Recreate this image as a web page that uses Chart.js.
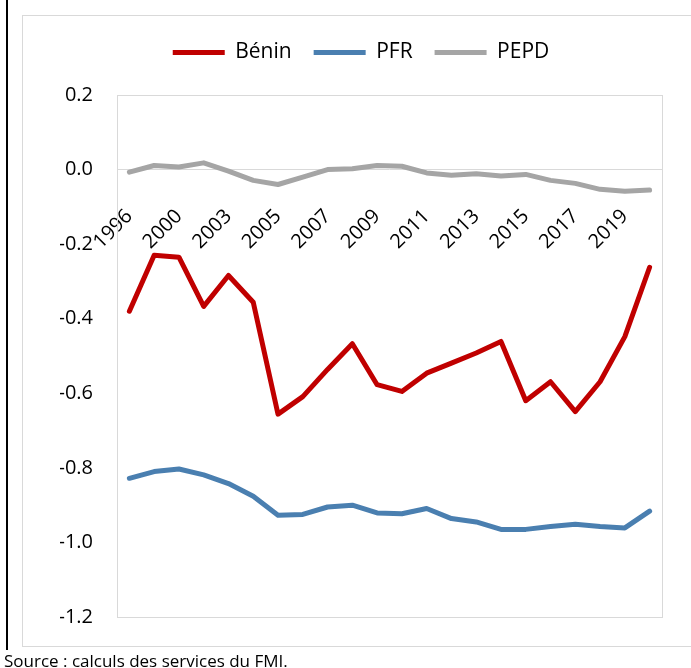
<!DOCTYPE html>
<html>
<head>
<meta charset="utf-8">
<script src="https://cdn.jsdelivr.net/npm/chart.js@4"></script>
<style>
  html, body { margin: 0; padding: 0; background: #fff; overflow: hidden; }
  #wrap { position: relative; width: 691px; height: 668px; }
  #chart { position: absolute; left: 0; top: 0; }
  .frame { position: absolute; left: 22px; top: 15px; width: 700px; height: 630px; border: 1px solid #d9d9d9; pointer-events: none; }
  .rule { position: absolute; left: 6px; top: 0; width: 2px; height: 650px; background: #000; }
  .source { position: absolute; left: 4px; top: 649px; font: 17px "Open Sans", sans-serif; color: #000; white-space: nowrap; }
</style>
</head>
<body>
<div id="wrap">
  <canvas id="chart" width="691" height="668"></canvas>
  <div class="frame"></div>
  <div class="rule"></div>
  <div class="source">Source : calculs des services du FMI.</div>
</div>
<script>
const years = ['1996', '1998', '2000', '2002', '2003', '2004', '2005', '2006', '2007', '2008', '2009',
  '2010', '2011', '2012', '2013', '2014', '2015', '2016', '2017', '2018', '2019', '2020'];
const benin = [-0.38, -0.23, -0.235, -0.367, -0.284, -0.356, -0.656, -0.609, -0.536, -0.467, -0.577,
  -0.595, -0.546, -0.519, -0.492, -0.461, -0.62, -0.569, -0.649, -0.569, -0.448, -0.262];
const pfr = [-0.828, -0.81, -0.803, -0.819, -0.842, -0.876, -0.927, -0.925, -0.905, -0.9, -0.921,
  -0.923, -0.909, -0.936, -0.945, -0.965, -0.965, -0.957, -0.951, -0.957, -0.961, -0.916];
const pepd = [-0.007, 0.011, 0.007, 0.018, -0.004, -0.029, -0.04, -0.02, 0.0, 0.002, 0.011,
  0.009, -0.009, -0.015, -0.011, -0.017, -0.013, -0.029, -0.037, -0.053, -0.058, -0.055];

const FONT = '"Open Sans", sans-serif';

// light grey box round the plot area
const plotFrame = {
  id: 'plotFrame',
  beforeDatasetsDraw(chart) {
    const { ctx, chartArea: a } = chart;
    ctx.save();
    ctx.strokeStyle = '#d9d9d9';
    ctx.lineWidth = 1;
    ctx.strokeRect(Math.round(a.left) + 0.5, Math.round(a.top) + 0.5,
      Math.round(a.right - a.left), Math.round(a.bottom - a.top));
    ctx.restore();
  }
};

// extra room under the legend
const legendGap = {
  id: 'legendGap',
  beforeUpdate(chart) {
    const lg = chart.legend;
    if (!lg || lg._gapped) return;
    const fit = lg.fit;
    lg.fit = function () {
      fit.call(this);
      this.height += 22;
    };
    lg._gapped = true;
  }
};

function line(label, data, color) {
  return {
    label, data,
    borderColor: color, backgroundColor: color,
    borderWidth: 5, pointRadius: 0, tension: 0,
    borderJoinStyle: 'round', borderCapStyle: 'round'
  };
}

new Chart(document.getElementById('chart'), {
  type: 'line',
  data: {
    labels: years,
    datasets: [
      line('Bénin', benin, '#c00000'),
      line('PFR', pfr, '#4a7fb0'),
      line('PEPD', pepd, '#a5a5a5')
    ]
  },
  options: {
    responsive: false,
    animation: false,
    layout: { padding: { top: 20, left: 60, right: 29, bottom: 51 } },
    plugins: {
      legend: {
        position: 'top',
        labels: {
          usePointStyle: true,
          pointStyle: 'line',
          pointStyleWidth: 52,
          padding: 22,
          color: '#000',
          font: { family: FONT, size: 21 }
        }
      },
      tooltip: { enabled: false }
    },
    scales: {
      x: {
        position: { y: 0 },
        offset: true,
        grid: { display: false },
        border: { display: false },
        ticks: {
          autoSkip: false,
          minRotation: 45,
          maxRotation: 45,
          padding: 27,
          color: '#000',
          font: { family: FONT, size: 20 },
          callback: (v, i) => (i % 2 === 0 ? years[i] : null)
        }
      },
      y: {
        min: -1.2,
        max: 0.2,
        afterFit: (s) => { s.width = 57; },
        grid: {
          drawTicks: false,
          color: (c) => (c.tick && Math.abs(c.tick.value) < 1e-9 ? '#d9d9d9' : 'rgba(0,0,0,0)')
        },
        border: { display: false },
        ticks: {
          stepSize: 0.2,
          padding: 24,
          color: '#000',
          font: { family: FONT, size: 20 },
          callback: (v) => v.toFixed(1)
        }
      }
    }
  },
  plugins: [plotFrame, legendGap]
});
</script>
</body>
</html>
